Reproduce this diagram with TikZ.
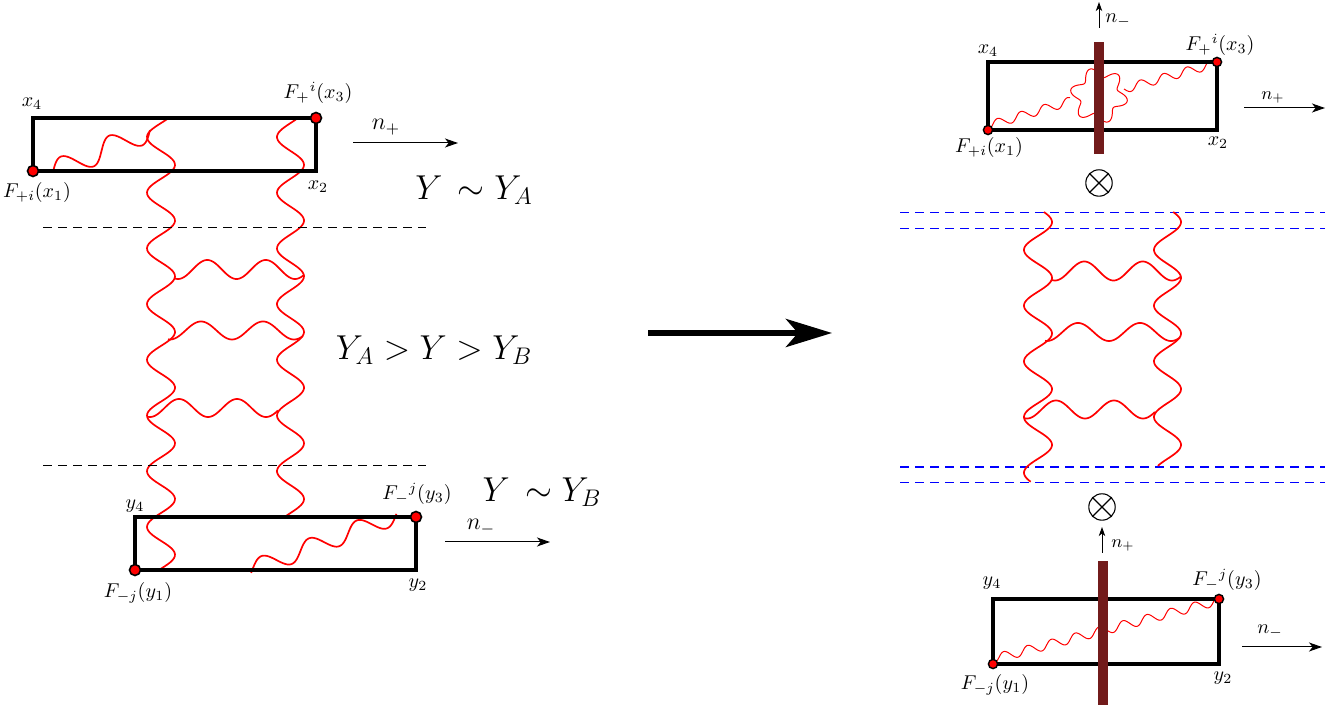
\documentclass[tikz,border=0pt]{standalone}
\usetikzlibrary{arrows.meta}
\definecolor{barc}{RGB}{114,27,27}
\definecolor{dblue}{RGB}{0,0,255}
\newcommand{\gwave}[8][glu]{%
  \pgfmathsetmacro{\wdx}{#4-#2}%
  \pgfmathsetmacro{\wdy}{#5-#3}%
  \pgfmathsetmacro{\wln}{veclen(\wdx,\wdy)}%
  \pgfmathsetmacro{\wnx}{-1*(\wdy)/\wln}%
  \pgfmathsetmacro{\wny}{(\wdx)/\wln}%
  \pgfmathsetmacro{\wcy}{#7}%
  \pgfmathsetmacro{\wph}{#8}%
  \draw[#1] plot[domain=0:1, samples=220, smooth, variable=\t]
    ({#2+\t*(\wdx)+#6*sin(360*\wcy*\t+\wph)*(\wnx)},{#3+\t*(\wdy)+#6*sin(360*\wcy*\t+\wph)*(\wny)});%
}
\newcommand{\ladder}[4]{%
  \gwave{161}{#1}{161}{#2}{14}{(#2-#1)/55.7}{6.4632*(#1-123.1)}%
  \gwave{290.5}{#3}{290.5}{#4}{13.5}{(#4-#3)/55.7}{6.4632*(#3-123.1)}%
  \gwave{175}{269.5}{304}{269.5}{9.5}{2.205}{71.5}%
  \gwave{168}{330.5}{303}{330.5}{9}{2.177}{78.4}%
  \gwave{148}{408}{278}{408}{9}{2.241}{77.6}%
}
\tikzset{
  box/.style={line width=2.1pt},
  glu/.style={red, line width=0.85pt},
  pho/.style={red, line width=0.5pt},
  bigdot/.style={circle, fill=red, draw=black, line width=0.8pt, inner sep=0pt, minimum size=5.5pt},
  smalldot/.style={circle, fill=red, draw=black, line width=0.7pt, inner sep=0pt, minimum size=4.6pt},
  dsh/.style={line width=0.5pt, dash pattern=on 4.5pt off 3pt},
  bdsh/.style={color=dblue, line width=0.95pt, dash pattern=on 4.5pt off 3pt},
  thinarrow/.style={line width=0.5pt, -{Stealth[length=6.5pt, width=4.5pt, inset=1.8pt]}},
  uparrow/.style={line width=0.5pt, -{Stealth[length=4.5pt, width=3.2pt, inset=1.2pt]}},
  bigarrow/.style={line width=3pt, -{Stealth[length=23pt, width=14pt, inset=6pt]}},
  lbl/.style={inner sep=0pt, font=\normalsize},
  nlbl/.style={inner sep=0pt, font=\large},
  big/.style={inner sep=0pt, font=\LARGE},
  otimes/.style={circle, draw, line width=0.55pt, minimum size=13.2pt, inner sep=0pt},
}
\begin{document}
\begin{tikzpicture}[x=0.5pt, y=-0.5pt]
\useasboundingbox (0,0) rectangle (1330,705);

% ---------- blue dashed lines (right) ----------
\coordinate (bl1) at (900,212.5);
\coordinate (br1) at (1325,212.5);
\coordinate (bl2) at (900,228.5);
\coordinate (br2) at (1325,228.5);
\coordinate (bl3) at (900,467);
\coordinate (br3) at (1325,467);
\coordinate (bl4) at (900,482.5);
\coordinate (br4) at (1325,482.5);
\draw[bdsh] (bl1) -- (br1);
\draw[bdsh] (bl2) -- (br2);
\draw[bdsh] (bl3) -- (br3);
\draw[bdsh] (bl4) -- (br4);

% ---------- left ladder ----------
\ladder{118}{571}{118}{516}
\gwave{53}{172}{150}{130}{11}{2}{180}
\gwave{250}{570}{397}{515}{9}{3.08}{160}

% corners, left
\coordinate (x1) at (33,171);
\coordinate (x3) at (316,118);
\coordinate (y1) at (135,570);
\coordinate (y3) at (416,517);
\draw[box] (x1) rectangle (x3);
\draw[box] (y1) rectangle (y3);
\node[bigdot] (dx1) at (x1) {};
\node[bigdot] (dx3) at (x3) {};
\node[bigdot] (dy1) at (y1) {};
\node[bigdot] (dy3) at (y3) {};

\coordinate (dA1) at (43,228);
\coordinate (dA2) at (426,228);
\coordinate (dB1) at (43,466);
\coordinate (dB2) at (426,466);
\draw[dsh] (dA1) -- (dA2);
\draw[dsh] (dB1) -- (dB2);

\node[lbl] (lx4) at (32,104) {$x_4$};
\node[lbl] (lx3) at (318,93) {$F_+{}^{i}(x_3)$};
\node[lbl] (lx2) at (318,187) {$x_2$};
\node[lbl] (lx1) at (37,193) {$F_{+i}(x_1)$};
\coordinate (npA) at (353,143);
\coordinate (npB) at (458,143);
\draw[thinarrow] (npA) -- (npB);
\node[nlbl] (lnp) at (386,127) {$n_+$};
\node[big] (YA) at (474,190) {$Y\,\sim Y_A$};
\node[big] (YAB) at (434,350) {$Y_A > Y > Y_B$};

\node[lbl] (ly4) at (135,506) {$y_4$};
\node[lbl] (ly3) at (417,494) {$F_-{}^{j}(y_3)$};
\node[lbl] (ly2) at (418,585) {$y_2$};
\node[lbl] (ly1) at (138,593) {$F_{-j}(y_1)$};
\coordinate (nmA) at (445,542);
\coordinate (nmB) at (550,542);
\draw[thinarrow] (nmA) -- (nmB);
\node[nlbl] (lnm) at (481,527) {$n_-$};
\node[big] (YB) at (542,492) {$Y\,\sim Y_B$};

% ---------- big arrow ----------
\coordinate (bA) at (648,333);
\coordinate (bB) at (832,333);
\draw[bigarrow] (bA) -- (bB);

% ---------- right ladder ----------
\begin{scope}[shift={(877,1.5)}]
\ladder{210.5}{480.5}{210.5}{464.5}
\end{scope}

% ---------- right top ----------
\gwave[pho]{987}{126}{1071}{101}{4.2}{3.6}{90}
\gwave[pho]{1124}{89}{1217}{63}{4.2}{4}{0}
\draw[pho] plot[domain=0:360, samples=181, smooth, variable=\a]
  ({1099+(24+4.8*sin(6*\a+20))*cos(\a)},{95.5+(23+4.8*sin(6*\a+20))*sin(\a)});
\coordinate (rx1) at (988,130);
\coordinate (rx3) at (1217,62);
\draw[box] (rx1) rectangle (rx3);
\fill[barc] (1094.3,42) rectangle (1103.7,154);
\node[smalldot] (drx1) at (rx1) {};
\node[smalldot] (drx3) at (rx3) {};
\node[lbl] (rlx4) at (988,51) {$x_4$};
\node[lbl] (rlx3) at (1220,45) {$F_+{}^{i}(x_3)$};
\node[lbl] (rlx1) at (989,148) {$F_{+i}(x_1)$};
\node[lbl] (rlx2) at (1218,143) {$x_2$};
\coordinate (uA) at (1099,28);
\coordinate (uB) at (1099,2);
\draw[uparrow] (uA) -- (uB);
\node[lbl] (rnm) at (1118,21) {$n_-$};
\coordinate (rpA) at (1244,108);
\coordinate (rpB) at (1325,108);
\draw[thinarrow] (rpA) -- (rpB);
\node[lbl, font=\small] (rnp) at (1273,97) {$n_+$};
\node[otimes] (ot1) at (1099,183) {};
\draw[line width=0.55pt] (ot1.north west) -- (ot1.south east) (ot1.north east) -- (ot1.south west);

% ---------- right bottom ----------
\node[otimes] (ot2) at (1102,507) {};
\draw[line width=0.55pt] (ot2.north west) -- (ot2.south east) (ot2.north east) -- (ot2.south west);
\coordinate (u2A) at (1102,553);
\coordinate (u2B) at (1102,527);
\draw[uparrow] (u2A) -- (u2B);
\node[lbl, font=\small] (rnp2) at (1123,545) {$n_+$};
\gwave[pho]{993}{659}{1217}{601}{4.5}{9.4}{90}
\coordinate (ry1) at (993,664);
\coordinate (ry3) at (1219,599);
\draw[box] (ry1) rectangle (ry3);
\fill[barc] (1098.3,561) rectangle (1107.7,705);
\node[smalldot] (dry1) at (ry1) {};
\node[smalldot] (dry3) at (ry3) {};
\node[lbl] (rly4) at (992,583) {$y_4$};
\node[lbl] (rly3) at (1227,580) {$F_-{}^{j}(y_3)$};
\node[lbl] (rly1) at (995,685) {$F_{-j}(y_1)$};
\node[lbl] (rly2) at (1223,678) {$y_2$};
\coordinate (rmA) at (1242,647);
\coordinate (rmB) at (1322,647);
\draw[thinarrow] (rmA) -- (rmB);
\node[lbl] (rnm2) at (1270,632) {$n_-$};
\end{tikzpicture}
\end{document}
